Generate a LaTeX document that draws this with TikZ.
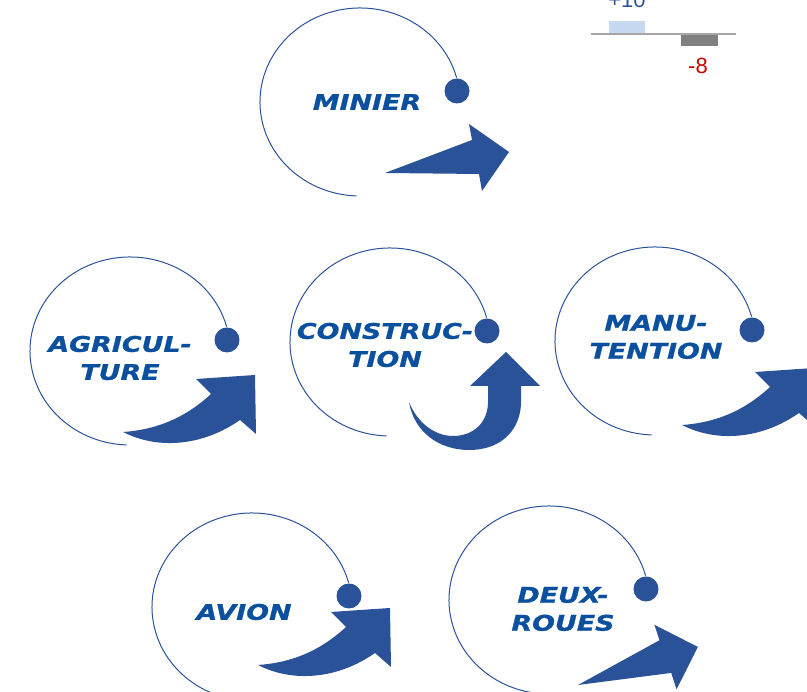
\documentclass[tikz,border=0pt]{standalone}
\usepackage{fontspec}
\setmainfont{Liberation Sans}
\newfontfamily\sectorfont{DejaVu Sans}[FakeStretch=1.25, FakeBold=1.2]
\definecolor{SectorBlue}{RGB}{10,80,158}
\definecolor{ArrowBlue}{RGB}{42,82,152}
\definecolor{BarBlue}{RGB}{198,217,240}
\definecolor{BarGray}{RGB}{128,128,128}
\definecolor{AxisGray}{RGB}{166,166,166}
\definecolor{ValueRed}{RGB}{204,0,0}
\definecolor{ValueBlue}{RGB}{47,85,151}

\begin{document}
\begin{tikzpicture}[x=1pt, y=1pt,
    sector/.style={font=\sectorfont\bfseries\itshape\fontsize{21.5}{28}\selectfont,
      text=SectorBlue, align=center, inner sep=0pt},
    orbit/.style={draw=ArrowBlue, line width=1pt},
    ball/.style={circle, fill=ArrowBlue, minimum size=25pt, inner sep=0pt},
    arrowfill/.style={fill=ArrowBlue},
    value/.style={font=\fontsize{22}{26}\selectfont, anchor=base}]

    \clip (0,0) rectangle (807,692);

    % orbits with their dots
    \foreach \name/\x/\y in {Minier/360/590, Agriculture/130/341,
        Construction/390/350, Manutention/655/351,
        Avion/252/85, DeuxRoues/549/92} {
        \coordinate (\name Orbit) at (\x,\y);
        \draw[orbit] ([shift={(15:100 and 94)}]\name Orbit)
            arc[start angle=15, end angle=268, x radius=100, y radius=94];
        \node[ball] (\name Dot) at ([shift={(97,11)}]\name Orbit) {};
    }

    % straight arrows
    \foreach \x/\y/\a in {385/519/0, 578/7/8}
    \fill[arrowfill, shift={(\x,\y)}, rotate=\a]
        (0,0) -- (87,33) -- (84,49) -- (124,21) -- (97,-18) -- (94,-1) -- cycle;

    % bent arrows
    \foreach \x/\y in {123/260, 682/267, 258/27}
    \fill[arrowfill, shift={(\x,\y)}]
        (0,0) .. controls (35,-18) and (80,-14) .. (117,12) -- (133,-2)
        -- (132,57) -- (73,53) -- (88,38) .. controls (60,12) and (30,2) .. (0,0) -- cycle;

    % u-turn arrow
    \fill[arrowfill, shift={(409,290)}]
        (0,0) .. controls (5,-30) and (30,-48) .. (60,-48)
        .. controls (95,-48) and (112,-25) .. (112,0) -- (112,16) -- (131,16)
        -- (97,50) -- (61,16) -- (79,16) -- (79,0)
        .. controls (79,-20) and (65,-34) .. (44,-34)
        .. controls (25,-34) and (8,-20) .. (0,0) -- cycle;

    \node[sector] (MinierLabel) at (367,590) {MINIER};
    \node[sector] (AgricultureLabel) at (120,334) {AGRICUL-\\TURE};
    \node[sector] (ConstructionLabel) at (385,347) {CONSTRUC-\\TION};
    \node[sector] (ManutentionLabel) at (656,355) {MANU-\\TENTION};
    \node[sector] (AvionLabel) at (244,80) {AVION};
    \node[sector] (DeuxRouesLabel) at (563,83) {DEUX-\\ROUES};

    % bar chart fragment
    \fill[BarBlue] (609,658) rectangle (645,671);
    \fill[BarGray] (681,658) rectangle (718,645.5);
    \draw[AxisGray, line width=1.5pt] (591,658) -- (736,658);
    \node[value, text=ValueBlue] (PlusValue) at (627,684) {+10};
    \node[value, text=ValueRed] (MinusValue) at (698,618) {-8};

\end{tikzpicture}
\end{document}
